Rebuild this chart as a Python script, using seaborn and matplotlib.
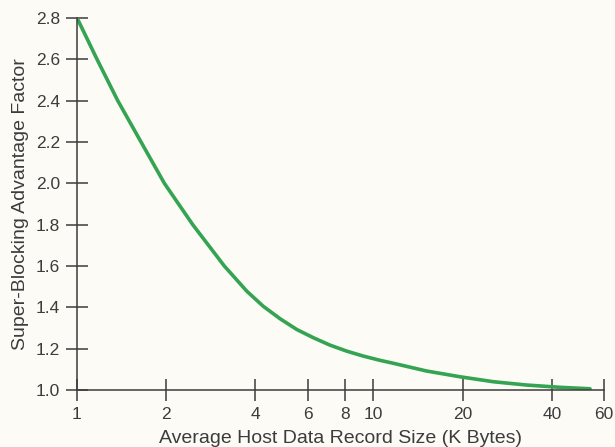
import matplotlib
matplotlib.use("Agg")
import matplotlib.pyplot as plt
import matplotlib.ticker as mticker
import seaborn as sns
import pandas as pd

# Data
record_size_kb = [1, 1.168, 1.372, 1.644, 1.971, 2.457, 3.14, 3.74, 4.25,
                  4.84, 5.51, 6.27, 7.14, 8.13, 9.25, 10.5, 11.7, 15.1, 19.6,
                  25.4, 32.9, 42.6, 53.8]
advantage_factor = [2.8, 2.6, 2.4, 2.2, 2.0, 1.8, 1.6, 1.478, 1.405,
                    1.345, 1.293, 1.253, 1.217, 1.188, 1.164, 1.144, 1.129, 1.092, 1.064,
                    1.040, 1.024, 1.013, 1.006]
x_ticks = [1, 2, 4, 6, 8, 10, 20, 40, 60]
x_tick_labels = ["1", "2", "4", "6", "8", "10", "20", "40", "60"]
y_ticks = [1.0, 1.2, 1.4, 1.6, 1.8, 2.0, 2.2, 2.4, 2.6, 2.8]
y_tick_labels = ["1.0", "1.2", "1.4", "1.6", "1.8", "2.0", "2.2", "2.4", "2.6", "2.8"]

sns.set_theme(style="white")
plt.rcParams["font.family"] = ["Liberation Sans", "DejaVu Sans"]

bg = "#fcfbf6"
ink = "#3c3c3c"

df = pd.DataFrame({"size": record_size_kb, "factor": advantage_factor})

fig = plt.figure(figsize=(6.15, 4.47), dpi=100, facecolor=bg)
ax = fig.add_axes([0.1252, 0.1275, 0.857, 0.8325])
ax.set_facecolor(bg)

sns.lineplot(data=df, x="size", y="factor", ax=ax, color="#34a453", linewidth=2.6)

ax.set_xscale("log")
ax.set_xlim(1, 60)
ax.set_ylim(1.0, 2.8)
ax.xaxis.set_major_locator(mticker.FixedLocator(x_ticks))
ax.xaxis.set_major_formatter(mticker.FixedFormatter(x_tick_labels))
ax.xaxis.set_minor_locator(mticker.NullLocator())
ax.yaxis.set_major_locator(mticker.FixedLocator(y_ticks))
ax.yaxis.set_major_formatter(mticker.FixedFormatter(y_tick_labels))

for side in ["top", "right"]:
    ax.spines[side].set_visible(False)
for side in ["left", "bottom"]:
    ax.spines[side].set_color(ink)
    ax.spines[side].set_linewidth(1.1)

ax.tick_params(axis="both", which="major", bottom=True, left=True,
               direction="inout", length=16, width=1.1, color=ink,
               labelcolor=ink, labelsize=12.5, pad=4)
ax.tick_params(axis="y", pad=4)

ax.set_xlabel("Average Host Data Record Size (K Bytes)", fontsize=14, color=ink, labelpad=6)
ax.set_ylabel("Super-Blocking Advantage Factor", fontsize=14, color=ink, labelpad=5)

fig.savefig("out.png", dpi=100, facecolor=bg)
